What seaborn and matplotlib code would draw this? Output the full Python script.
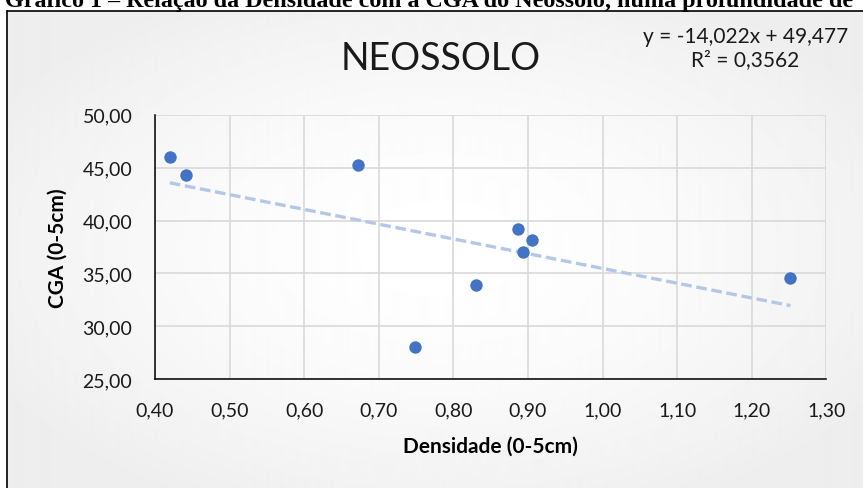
import numpy as np
import pandas as pd
import matplotlib
matplotlib.use('Agg')
import matplotlib.pyplot as plt
from matplotlib.lines import Line2D
from matplotlib.ticker import MultipleLocator, FuncFormatter
import seaborn as sns

# DATA -------------------------------------------------------------------------

densidade = [0.420, 0.442, 0.672, 0.749, 0.831, 0.887, 0.905, 0.893, 1.252]
cga = [46.03, 44.27, 45.25, 28.02, 33.90, 39.17, 38.16, 37.02, 34.60]

x_ticks = [0.40, 0.50, 0.60, 0.70, 0.80, 0.90, 1.00, 1.10, 1.20, 1.30]
y_ticks = [25, 30, 35, 40, 45, 50]

titulo = 'NEOSSOLO'
equacao = 'y = -14,022x + 49,477'
r2_texto = 'R² = 0,3562'
x_nome = 'Densidade (0-5cm)'
y_nome = 'CGA (0-5cm)'
legenda_fig = 'Gráfico 1 – Relação da Densidade com a CGA do Neossolo, numa profundidade de'

df = pd.DataFrame({x_nome: densidade, y_nome: cga})

# STYLE ------------------------------------------------------------------------

sns.set_style('white')
plt.rcParams['font.family'] = ['Lato', 'DejaVu Sans']

W, H = 863, 489
fig = plt.figure(figsize=(W / 100, H / 100), dpi=100)

# soft radial background of the chart box (Excel style)
bg = fig.add_axes([0, 0, 1, 1], zorder=-10)
bg.axis('off')
yy, xx = np.mgrid[0:H, 0:W]
r = np.sqrt(((xx - 440) / (W * 0.6)) ** 2 + ((yy - 250) / (H * 0.6)) ** 2)
img = 1 - 0.07 * np.clip(r, 0, 1) ** 1.6
img[(xx < 7) | (yy < 12)] = 1.0
bg.imshow(img, cmap='gray', vmin=0, vmax=1, extent=[0, W, H, 0], aspect='auto', interpolation='bilinear')
bg.set_xlim(0, W)
bg.set_ylim(H, 0)

# chart box border (only left and top edges fall inside the picture)
fig.add_artist(Line2D([7 / W, 7 / W], [0, 1 - 12 / H], color='black', lw=1.2, transform=fig.transFigure))
fig.add_artist(Line2D([7 / W, 1], [1 - 12 / H, 1 - 12 / H], color='black', lw=1.2, transform=fig.transFigure))

# PLOT -------------------------------------------------------------------------

ax = fig.add_axes([154.9 / W, 1 - 380.2 / H, 671.4 / W, 264.5 / H])
ax.set_facecolor('none')

sns.regplot(
    data=df, x=x_nome, y=y_nome, ax=ax, ci=None, truncate=True,
    color='#4472C4',
    scatter_kws={'s': 80, 'alpha': 1, 'linewidths': 0, 'zorder': 3},
    line_kws={'color': '#B4C7E7', 'lw': 2.4, 'ls': (0, (3.2, 1.4)), 'zorder': 2},
)

ax.set_xlim(x_ticks[0], x_ticks[-1])
ax.set_ylim(y_ticks[0], y_ticks[-1])
ax.set_xticks(x_ticks)
ax.set_yticks(y_ticks)
ax.xaxis.set_minor_locator(MultipleLocator(0.02))
ax.yaxis.set_minor_locator(MultipleLocator(1))
ax.xaxis.set_major_formatter(FuncFormatter(lambda v, p: f'{v:.2f}'.replace('.', ',')))
ax.yaxis.set_major_formatter(FuncFormatter(lambda v, p: f'{v:.2f}'.replace('.', ',')))

ax.grid(True, which='major', color='#d9d9d9', lw=1.2, zorder=0)
ax.set_axisbelow(True)
for s in ['top', 'right']:
    ax.spines[s].set_visible(False)
for s in ['left', 'bottom']:
    ax.spines[s].set_color('black')
    ax.spines[s].set_linewidth(1.1)
    ax.spines[s].set_zorder(4)

ax.tick_params(which='major', direction='inout', length=10.5, width=1.1, color='black',
               labelsize=14, labelcolor='#1a1a1a', pad=11)
ax.tick_params(which='minor', direction='out', length=3.6, width=1.1, color='black')

ax.set_xlabel(x_nome, fontsize=15, fontweight='bold', va='center', color='black')
ax.set_ylabel(y_nome, fontsize=15, fontweight='bold', va='center', color='black')
ax.xaxis.set_label_coords(0.5, (380.2 - 446.7) / 264.5)
ax.yaxis.set_label_coords((58 - 154.9) / 671.4, 0.5)

# TEXTS ------------------------------------------------------------------------

fig.text(440.7 / W, 1 - 59.3 / H, titulo, ha='center', va='center', fontsize=27, color='#1a1a1a')
fig.text(746 / W, 1 - 36.7 / H, equacao, ha='center', va='center', fontsize=15, color='#1a1a1a')
fig.text(745 / W, 1 - 60 / H, r2_texto, ha='center', va='center', fontsize=15, color='#1a1a1a')

# caption above the chart, cut off by the top edge
cap = fig.text(0, 1 - 7 / H, legenda_fig, ha='left', va='baseline', fontsize=17.4,
               fontweight='bold', family=['Liberation Serif', 'DejaVu Serif'], color='black')
renderer = fig.canvas.get_renderer()
bb = cap.get_window_extent(renderer)
cap.set_x((853 - bb.width) / W)

fig.savefig('out.png', dpi=100)
